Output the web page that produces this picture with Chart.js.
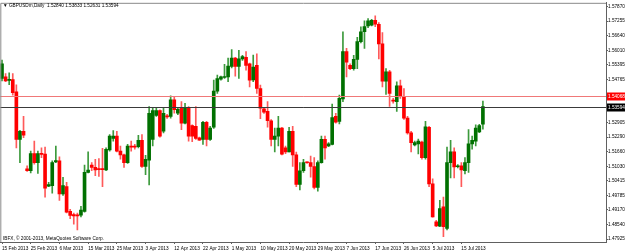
<!DOCTYPE html>
<html>
<head>
<meta charset="utf-8">
<script src="https://cdn.jsdelivr.net/npm/chart.js@4.4.0/dist/chart.umd.min.js"></script>
<style>
  html, body { margin: 0; padding: 0; background: #fff; }
  #wrap { width: 625px; height: 251px; }
</style>
</head>
<body>
<div id="wrap"><canvas id="grafico" width="625" height="251"></canvas></div>
<script>
const headerText = '\u25BC GBPUSDm,Daily  1.52840 1.53833 1.52631 1.53594';
const copyrightText = 'IBFX, \u00A9 2001-2013, MetaQuotes Software Corp.';

const dateTicks = ['15 Feb 2013', '25 Feb 2013', '6 Mar 2013', '15 Mar 2013', '25 Mar 2013', '3 Apr 2013',
  '12 Apr 2013', '22 Apr 2013', '1 May 2013', '10 May 2013', '20 May 2013', '29 May 2013', '7 Jun 2013',
  '17 Jun 2013', '26 Jun 2013', '5 Jul 2013', '15 Jul 2013'];
const barsPerLabel = 8;

const priceTicks = [1.57870, 1.57255, 1.56640, 1.56010, 1.55395, 1.54765, 1.52905, 1.52290,
  1.51660, 1.51030, 1.50415, 1.49785, 1.49170, 1.48540, 1.47925];

const openPrices = [
  1.5480, 1.5487, 1.5472, 1.5475, 1.5423, 1.5219, 1.5254, 1.5093, 1.5085, 1.5158,
  1.5120, 1.5158, 1.5156, 1.5019, 1.5021, 1.5123, 1.5127, 1.4986, 1.5017, 1.4911,
  1.4897, 1.4895, 1.4895, 1.4911, 1.5078, 1.5109, 1.5099, 1.5093, 1.5093, 1.5088,
  1.5174, 1.5223, 1.5233, 1.5169, 1.5153, 1.5120, 1.5188, 1.5188, 1.5188, 1.5215,
  1.5103, 1.5130, 1.5219, 1.5322, 1.5343, 1.5254, 1.5320, 1.5318, 1.5388, 1.5331,
  1.5353, 1.5289, 1.5356, 1.5278, 1.5275, 1.5226, 1.5219, 1.5292, 1.5219, 1.5271,
  1.5426, 1.5477, 1.5484, 1.5487, 1.5532, 1.5567, 1.5532, 1.5564, 1.5571, 1.5543,
  1.5474, 1.5536, 1.5437, 1.5350, 1.5339, 1.5299, 1.5219, 1.5233, 1.5268, 1.5183,
  1.5166, 1.5254, 1.5153, 1.5026, 1.5085, 1.5121, 1.5120, 1.5103, 1.5014, 1.5120,
  1.5219, 1.5191, 1.5198, 1.5318, 1.5296, 1.5392, 1.5595, 1.5536, 1.5522, 1.5562,
  1.5638, 1.5680, 1.5705, 1.5708, 1.5729, 1.5712, 1.5628, 1.5468, 1.5508, 1.5386,
  1.5381, 1.5449, 1.5402, 1.5310, 1.5247, 1.5195, 1.5200, 1.5208, 1.5141, 1.5271,
  1.5029, 1.4866, 1.4848, 1.4930, 1.4838, 1.5120, 1.5166, 1.5102, 1.5106, 1.5085,
  1.5120, 1.5200, 1.5212, 1.5251, 1.5284
];
const highPrices = [
  1.5559, 1.5501, 1.5504, 1.5501, 1.5453, 1.5258, 1.5318, 1.5106, 1.5169, 1.5212,
  1.5169, 1.5183, 1.5186, 1.5035, 1.5127, 1.5191, 1.5144, 1.5057, 1.5035, 1.4920,
  1.4904, 1.4904, 1.4933, 1.5109, 1.5166, 1.5120, 1.5134, 1.5137, 1.5181, 1.5183,
  1.5240, 1.5257, 1.5254, 1.5191, 1.5156, 1.5198, 1.5212, 1.5198, 1.5236, 1.5240,
  1.5151, 1.5360, 1.5356, 1.5353, 1.5346, 1.5353, 1.5326, 1.5406, 1.5402, 1.5356,
  1.5381, 1.5374, 1.5360, 1.5282, 1.5360, 1.5229, 1.5296, 1.5296, 1.5275, 1.5473,
  1.5494, 1.5490, 1.5540, 1.5567, 1.5604, 1.5571, 1.5600, 1.5579, 1.5595, 1.5546,
  1.5580, 1.5585, 1.5452, 1.5356, 1.5381, 1.5304, 1.5268, 1.5318, 1.5271, 1.5191,
  1.5271, 1.5275, 1.5165, 1.5120, 1.5134, 1.5123, 1.5148, 1.5141, 1.5127, 1.5233,
  1.5233, 1.5205, 1.5370, 1.5331, 1.5409, 1.5680, 1.5609, 1.5543, 1.5579, 1.5656,
  1.5701, 1.5727, 1.5736, 1.5733, 1.5748, 1.5719, 1.5677, 1.5522, 1.5515, 1.5395,
  1.5466, 1.5473, 1.5437, 1.5318, 1.5254, 1.5212, 1.5220, 1.5212, 1.5296, 1.5275,
  1.5050, 1.4873, 1.4958, 1.4972, 1.5186, 1.5215, 1.5183, 1.5111, 1.5120, 1.5141,
  1.5261, 1.5233, 1.5282, 1.5284, 1.5383
];
const lowPrices = [
  1.5470, 1.5466, 1.5453, 1.5409, 1.5183, 1.5120, 1.5226, 1.5082, 1.5076, 1.5113,
  1.5073, 1.5141, 1.4972, 1.5017, 1.4989, 1.5120, 1.4958, 1.4979, 1.4904, 1.4880,
  1.4856, 1.4831, 1.4887, 1.4908, 1.5076, 1.5085, 1.5064, 1.5061, 1.5017, 1.5085,
  1.5169, 1.5212, 1.5165, 1.5134, 1.5099, 1.5116, 1.5169, 1.5177, 1.5183, 1.5099,
  1.5068, 1.5024, 1.5191, 1.5318, 1.5229, 1.5247, 1.5309, 1.5310, 1.5331, 1.5325,
  1.5261, 1.5285, 1.5212, 1.5209, 1.5219, 1.5215, 1.5198, 1.5191, 1.5215, 1.5266,
  1.5416, 1.5473, 1.5480, 1.5466, 1.5525, 1.5490, 1.5480, 1.5557, 1.5515, 1.5444,
  1.5466, 1.5416, 1.5308, 1.5330, 1.5271, 1.5191, 1.5166, 1.5191, 1.5153, 1.5158,
  1.5165, 1.5103, 1.5017, 1.5003, 1.5078, 1.5116, 1.5057, 1.5007, 1.4997, 1.5117,
  1.5134, 1.5188, 1.5195, 1.5289, 1.5285, 1.5381, 1.5487, 1.5518, 1.5515, 1.5522,
  1.5632, 1.5609, 1.5698, 1.5705, 1.5702, 1.5564, 1.5444, 1.5412, 1.5360, 1.5374,
  1.5339, 1.5395, 1.5305, 1.5241, 1.5165, 1.5191, 1.5157, 1.5134, 1.5134, 1.5017,
  1.4886, 1.4845, 1.4845, 1.4803, 1.4831, 1.5054, 1.5054, 1.5097, 1.5017, 1.5071,
  1.5078, 1.5177, 1.5191, 1.5248, 1.5263
];
const closePrices = [
  1.5543, 1.5470, 1.5474, 1.5419, 1.5219, 1.5254, 1.5237, 1.5085, 1.5158, 1.5120,
  1.5158, 1.5155, 1.5010, 1.5026, 1.5120, 1.5128, 1.4986, 1.5021, 1.4908, 1.4894,
  1.4892, 1.4892, 1.4916, 1.5078, 1.5088, 1.5099, 1.5088, 1.5090, 1.5090, 1.5177,
  1.5233, 1.5233, 1.5169, 1.5153, 1.5120, 1.5191, 1.5186, 1.5186, 1.5215, 1.5103,
  1.5134, 1.5331, 1.5342, 1.5343, 1.5233, 1.5331, 1.5315, 1.5388, 1.5346, 1.5348,
  1.5289, 1.5353, 1.5233, 1.5233, 1.5223, 1.5216, 1.5292, 1.5219, 1.5268, 1.5426,
  1.5480, 1.5487, 1.5487, 1.5533, 1.5567, 1.5532, 1.5564, 1.5574, 1.5536, 1.5473,
  1.5529, 1.5437, 1.5353, 1.5336, 1.5299, 1.5219, 1.5233, 1.5268, 1.5156, 1.5166,
  1.5254, 1.5153, 1.5026, 1.5085, 1.5120, 1.5119, 1.5103, 1.5014, 1.5120, 1.5219,
  1.5183, 1.5200, 1.5313, 1.5293, 1.5395, 1.5595, 1.5550, 1.5522, 1.5562, 1.5638,
  1.5680, 1.5702, 1.5727, 1.5729, 1.5712, 1.5628, 1.5468, 1.5508, 1.5416, 1.5383,
  1.5449, 1.5402, 1.5310, 1.5247, 1.5205, 1.5205, 1.5212, 1.5141, 1.5273, 1.5029,
  1.4887, 1.4849, 1.4923, 1.4845, 1.5120, 1.5166, 1.5101, 1.5105, 1.5088, 1.5120,
  1.5200, 1.5215, 1.5268, 1.5278, 1.53594
];

// lineas horizontales (linea roja y precio bid)
const levelValues = [1.54068, 1.53594];
const levelLabels = ['1.54068', '1.53594'];

const colorAlcista = '#007000';
const colorBajista = '#ff0000';
const mechaAlcista = '#3c9a3c';
const mechaBajista = '#ff5a5a';
const colorNivel = ['#f07878', '#3a3a3a'];
const fondoNivel = ['#ff0000', '#000000'];
const fuente = '"Liberation Sans", Arial, sans-serif';
const tamLetra = 4.7;

const esAlcista = openPrices.map((o, i) => closePrices[i] >= o);

const cuerpos = openPrices.map((o, i) => ({ x: i, y: [o, closePrices[i]] }));
const mechas = lowPrices.map((l, i) => ({ x: i, y: [l, highPrices[i]] }));

const pluginMT4 = {
  id: 'mt4',
  afterDatasetsDraw(chart) {
    const ctx = chart.ctx;
    const area = chart.chartArea;
    const y = chart.scales.y;
    ctx.save();
    levelValues.forEach((v, k) => {
      const py = Math.round(y.getPixelForValue(v)) + 0.5;
      ctx.strokeStyle = colorNivel[k];
      ctx.lineWidth = 1;
      ctx.beginPath();
      ctx.moveTo(area.left, py);
      ctx.lineTo(area.right, py);
      ctx.stroke();
      ctx.fillStyle = fondoNivel[k];
      ctx.fillRect(area.right + 1, py - 4, chart.width - area.right - 1, 8);
      ctx.fillStyle = '#ffffff';
      ctx.font = tamLetra + 'px ' + fuente;
      ctx.textBaseline = 'middle';
      ctx.textAlign = 'left';
      ctx.fillText(levelLabels[k], area.right + 2, py);
    });
    ctx.restore();
  },
  afterDraw(chart) {
    const ctx = chart.ctx;
    const area = chart.chartArea;
    ctx.save();
    ctx.strokeStyle = '#8a8a8a';
    ctx.lineWidth = 1;
    ctx.beginPath();
    ctx.moveTo(area.left + 0.5, area.bottom);
    ctx.lineTo(area.left + 0.5, area.top + 0.5);
    ctx.lineTo(area.right, area.top + 0.5);
    ctx.stroke();
    ctx.fillStyle = '#000000';
    ctx.font = tamLetra + 'px ' + fuente;
    ctx.textBaseline = 'middle';
    ctx.textAlign = 'left';
    ctx.fillText(headerText, 3, 6);
    ctx.fillText(copyrightText, 3, area.bottom - 3);
    ctx.restore();
  }
};

new Chart(document.getElementById('grafico').getContext('2d'), {
  type: 'bar',
  data: {
    datasets: [
      {
        label: 'cuerpo',
        data: cuerpos,
        backgroundColor: esAlcista.map(b => b ? colorAlcista : colorBajista),
        barThickness: 3,
        minBarLength: 1,
        grouped: false,
        order: 0
      },
      {
        label: 'mecha',
        data: mechas,
        backgroundColor: esAlcista.map(b => b ? mechaAlcista : mechaBajista),
        barThickness: 1,
        grouped: false,
        order: 1
      }
    ]
  },
  options: {
    responsive: false,
    animation: false,
    layout: { padding: 0 },
    plugins: {
      legend: { display: false },
      tooltip: { enabled: false }
    },
    scales: {
      x: {
        type: 'linear',
        min: -0.47,
        max: 168.3,
        offset: false,
        afterBuildTicks: scale => {
          scale.ticks = dateTicks.map((_, k) => ({ value: k * barsPerLabel }));
        },
        afterFit: scale => { scale.height = 9; },
        ticks: {
          autoSkip: false,
          maxRotation: 0,
          align: 'start',
          padding: 2,
          color: '#000',
          font: { family: fuente, size: tamLetra },
          callback: v => dateTicks[v / barsPerLabel]
        },
        grid: { display: true, drawOnChartArea: false, offset: false, tickLength: 2, color: '#606060' },
        border: { display: true, color: '#606060' }
      },
      y: {
        position: 'right',
        min: 1.47798,
        max: 1.58039,
        afterBuildTicks: scale => {
          scale.ticks = priceTicks.map(v => ({ value: v }));
        },
        afterFit: scale => { scale.width = 19; },
        ticks: {
          padding: 0,
          color: '#000',
          font: { family: fuente, size: tamLetra },
          callback: v => v.toFixed(5)
        },
        grid: { display: true, drawOnChartArea: false, tickLength: 2, color: '#606060' },
        border: { display: true, color: '#606060' }
      }
    }
  },
  plugins: [pluginMT4]
});
</script>
</body>
</html>
